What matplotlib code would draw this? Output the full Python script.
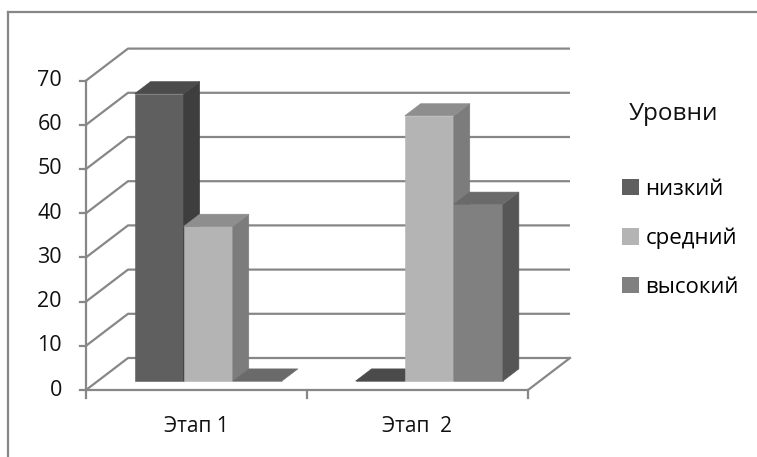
import matplotlib
matplotlib.use("Agg")
import matplotlib.pyplot as plt
from matplotlib.patches import Polygon, Patch
from matplotlib.lines import Line2D

plt.rcParams["font.family"] = ["Open Sans", "DejaVu Sans"]

# ---- data -------------------------------------------------------------
categories = ["Этап 1", "Этап  2"]
series_names = ["низкий", "средний", "высокий"]
low = [65, 0]
mid = [35, 60]
high = [0, 40]
y_ticks = [0, 10, 20, 30, 40, 50, 60, 70]
legend_title = "Уровни"

series_values = [low, mid, high]
# front / right side / top shades for each series
face_colors = [
    ("#5f5f5f", "#3e3e3e", "#4b4b4b"),
    ("#b4b4b4", "#7c7c7c", "#8e8e8e"),
    ("#808080", "#565656", "#6a6a6a"),
]
grid_color = "#878787"

# ---- canvas -----------------------------------------------------------
W, H = 757, 457
fig = plt.figure(figsize=(W / 100, H / 100), dpi=100)
ax = fig.add_axes([0, 0, 1, 1])

origin_x, origin_y = 86, 390      # where the front axes meet
px_cat, px_unit = 221, 4.42       # pixels per category / per value unit
ax.set_xlim(-origin_x / px_cat, (W - origin_x) / px_cat)
ax.set_ylim(-(H - origin_y) / px_unit, origin_y / px_unit)
ax.axis("off")

# oblique depth of the 3-D box, in data units
DX, DY = 42 / px_cat, 32 / px_unit
f_front, f_back = 0.28, 0.66      # depth slice occupied by the bars
n_cat = len(categories)
y_max = y_ticks[-1]

# ---- walls, floor and gridlines ---------------------------------------
glw = 1.6
for v in y_ticks:
    ax.plot([0, DX, n_cat + DX], [v, v + DY, v + DY], color=grid_color,
            lw=glw, solid_capstyle="butt", zorder=1)
    ax.plot([-6 / px_cat, 0], [v, v], color=grid_color, lw=glw, zorder=1)
ax.plot([0, n_cat, n_cat + DX], [0, 0, DY], color=grid_color, lw=glw, zorder=1)
ax.plot([0, 0], [0, y_max], color=grid_color, lw=glw, zorder=1)
for i in range(n_cat + 1):
    ax.plot([i, i], [0, -8 / px_unit], color=grid_color, lw=glw, zorder=1)

# ---- 3-D bars ---------------------------------------------------------
n_ser = len(series_values)
bw = 1 / (n_ser + 1.5)
ddx = (f_back - f_front) * DX
ddy = (f_back - f_front) * DY
z = 5
for ci in range(n_cat):
    start = ci + 0.75 * bw
    for si, vals in enumerate(series_values):
        v = vals[ci]
        front, side, top = face_colors[si]
        x_l = start + si * bw + f_front * DX
        base = f_front * DY
        x_r = x_l + bw
        ax.bar(x_l, v, width=bw, bottom=base, align="edge", color=front,
               edgecolor=front, linewidth=0.4, zorder=z)
        if v > 0:
            ax.add_patch(Polygon(
                [(x_r, base), (x_r + ddx, base + ddy),
                 (x_r + ddx, base + v + ddy), (x_r, base + v)],
                closed=True, facecolor=side, edgecolor=side, lw=0.4,
                zorder=z + 0.5))
        ax.add_patch(Polygon(
            [(x_l, base + v), (x_r, base + v),
             (x_r + ddx, base + v + ddy), (x_l + ddx, base + v + ddy)],
            closed=True, facecolor=top, edgecolor=top, lw=0.4,
            zorder=z + 0.6))
        z += 1

# ---- tick and category labels -----------------------------------------
for v in y_ticks:
    ax.text(-24 / px_cat, v, str(v), ha="right", va="center",
            fontsize=15.5, color="#111111")
for ci, name in enumerate(categories):
    ax.text(ci + 0.5, -36 / px_unit, name, ha="center", va="center",
            fontsize=15, color="#111111")

# ---- legend -----------------------------------------------------------
handles = [Patch(facecolor=c[0], edgecolor="none") for c in face_colors]
ax.legend(handles, series_names, loc="upper left",
          bbox_to_anchor=(622 / W, 1 - 179 / H), bbox_transform=fig.transFigure,
          frameon=False, fontsize=16, handlelength=0.75, handleheight=0.75,
          handletextpad=0.3, labelspacing=1.25, borderpad=0, borderaxespad=0)
fig.text(673 / W, 1 - 114 / H, legend_title, ha="center", va="center",
         fontsize=17.5, color="#111111")

# ---- chart border (left and top edges fall inside the canvas) ---------
fig.add_artist(Line2D([8 / W, 8 / W], [0, 1 - 12 / H], color=grid_color,
                      lw=1.6, transform=fig.transFigure))
fig.add_artist(Line2D([8 / W, 1], [1 - 12 / H, 1 - 12 / H], color=grid_color,
                      lw=1.6, transform=fig.transFigure))

fig.savefig("out.png", dpi=100)
